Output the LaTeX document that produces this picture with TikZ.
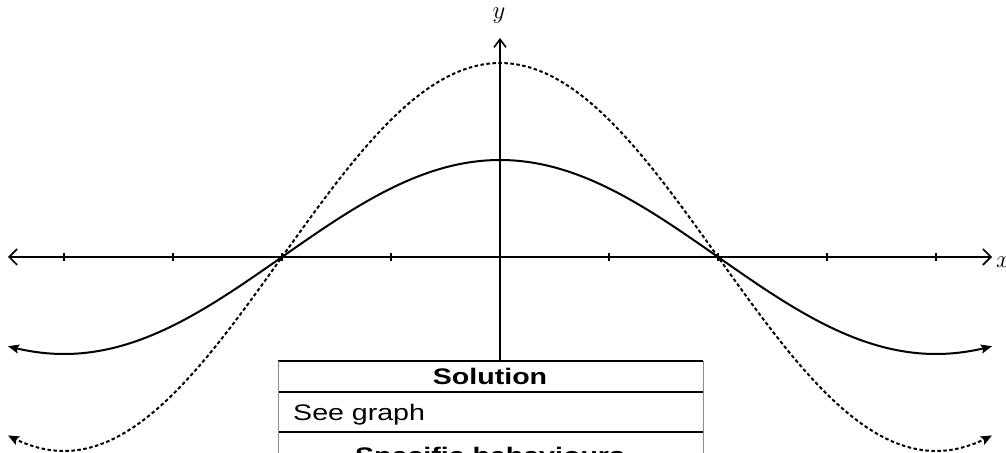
\documentclass[tikz,border=0pt]{standalone}
\usepackage{fontspec}
\usetikzlibrary{arrows.meta}
\newfontfamily\tabfont[FakeStretch=1.27]{Liberation Sans}
\begin{document}
\begin{tikzpicture}[x=1bp,y=-1bp,
  axis/.style={line width=1.6bp,black},
  endtip/.style={{Stealth[length=11bp,width=9bp,inset=2bp]}-{Stealth[length=11bp,width=9bp,inset=2bp]}},
  curvesolid/.style={line width=2bp,black,endtip},
  curvedash/.style={line width=2bp,black,dash pattern=on 3.5bp off 2.5bp,endtip},
  tick/.style={line width=1.1bp},
  hline/.style={line width=1.4bp,black},
  vline/.style={line width=0.6bp,black!45},
  tabtext/.style={inner sep=0pt,font=\tabfont\fontsize{22.5bp}{26bp}\selectfont},
  axlabel/.style={inner sep=0pt,font=\fontsize{30bp}{32bp}\selectfont}]
\useasboundingbox (0,0) rectangle (1006,453);
\clip (0,0) rectangle (1006,453);
% axes
\coordinate (xl) at (8,257);
\coordinate (xr) at (992,257);
\coordinate (yt) at (500,38);
\coordinate (yb) at (500,361);
\draw[axis,{Straight Barb[length=8bp,width=16bp]}-{Straight Barb[length=8bp,width=16bp]}] (xl) -- (xr);
\draw[axis,-{Straight Barb[length=8bp,width=12bp]}] (yb) -- (yt);
\node[axlabel] (ylab) at (499,16) {$y$};
\node[axlabel,anchor=west] (xlab) at (996,262) {$x$};
% ticks
\foreach \t in {64,173,282,391,609,718,827,936}
  \draw[tick] (\t,253) -- (\t,261);
% curves
\draw[curvedash] plot[domain=8:992,samples=120,smooth] (\x,{257-194*cos((\x-500)/436*180)});
\draw[curvesolid] plot[domain=8:992,samples=120,smooth] (\x,{257-97*cos((\x-500)/436*180)});
% table
\coordinate (tl) at (278,361);
\coordinate (tr) at (703,361);
\coordinate (ml) at (278,392);
\coordinate (mr) at (703,392);
\coordinate (nl) at (278,432);
\coordinate (nr) at (703,432);
\coordinate (bl) at (278,460);
\coordinate (br) at (703,460);
\draw[hline] (tl) -- (tr);
\draw[hline] (ml) -- (mr);
\draw[hline] (nl) -- (nr);
\draw[vline] (tl) -- (bl);
\draw[vline] (tr) -- (br);
\node[tabtext,anchor=base] (sol) at (490,385) {\bfseries Solution};
\node[tabtext,anchor=base west] (see) at (293,420) {See graph};
\node[tabtext,anchor=base] (spec) at (490,463) {\bfseries Specific behaviours};
\end{tikzpicture}
\end{document}
